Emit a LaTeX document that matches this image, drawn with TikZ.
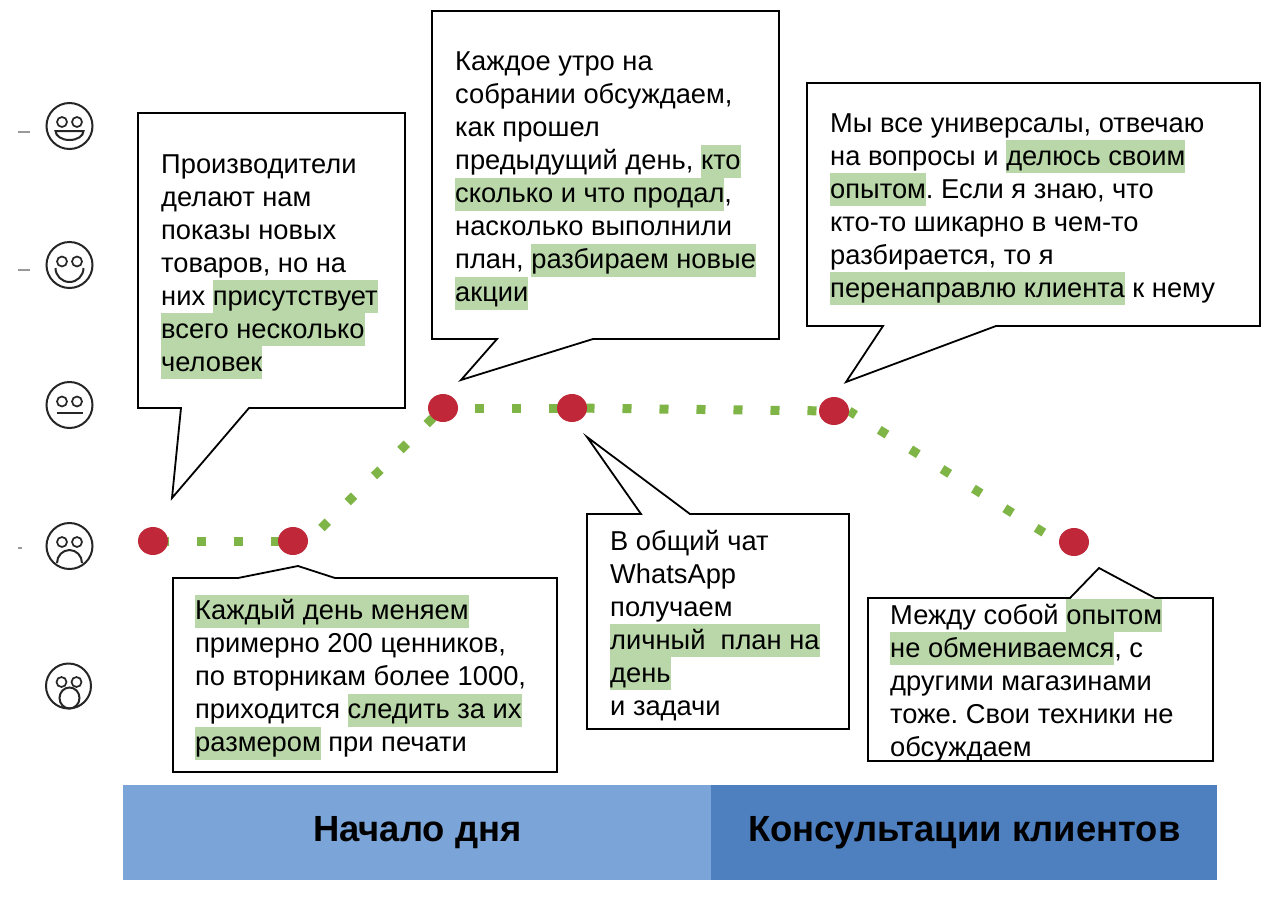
\documentclass[tikz,border=0pt]{standalone}
\usepackage{fontspec}
\setmainfont{Liberation Sans}
\usetikzlibrary{shapes.geometric,backgrounds}
\definecolor{hlgreen}{HTML}{B9D7A8}
\definecolor{barlight}{HTML}{7BA5D8}
\definecolor{bardark}{HTML}{4E80C0}
\definecolor{dotred}{HTML}{C0283A}
\definecolor{pathgreen}{HTML}{7FB547}
\newcommand\hl[1]{{\setlength\fboxsep{0pt}\colorbox{hlgreen}{\rule[-8pt]{0pt}{33pt}#1}}}
\newcommand\saysetup{\fontsize{27.3}{33}\selectfont\frenchspacing\lineskiplimit=-100pt\relax}
\tikzset{
 bubble/.style={draw=black,fill=white,line width=1.8pt,line join=miter},
 say/.style={anchor=north west,align=left,inner sep=0pt,font=\saysetup},
 stagedot/.style={ellipse,fill=dotred,minimum width=30pt,minimum height=28pt,inner sep=0pt},
 trail/.style={draw=pathgreen,line width=9pt,dash pattern=on 9pt off 28pt},
 bar/.style={anchor=north west,inner sep=0pt,minimum height=95pt,font=\fontsize{36.4}{40}\selectfont\bfseries},
 face/.style={draw=black!85,line width=2pt},
 eye/.style={draw=black!85,line width=1.7pt},
 tick/.style={draw=black!40,line width=1.5pt}
}
\begin{document}
\begin{tikzpicture}[x=1pt,y=-1pt]
\useasboundingbox (0,0) rectangle (1280,900);
% faces
\begin{scope}[shift={(69.5,126)}]
 \draw[face] (0,0) circle (23);
 \draw[eye] (-7.5,-4) circle (5) (7.5,-4) circle (5);
 \draw[face] (-14,5) -- (14,5) arc (0:180:14 and 9) -- cycle;
\end{scope}
\begin{scope}[shift={(69.5,265)}]
 \draw[face] (0,0) circle (23);
 \draw[eye] (-7.5,-3.5) circle (5) (7.5,-3.5) circle (5);
 \draw[face] (-14,3) arc (180:0:14 and 14);
\end{scope}
\begin{scope}[shift={(69.5,405)}]
 \draw[face] (0,0) circle (23);
 \draw[eye] (-7.5,-3.5) circle (5) (7.5,-3.5) circle (5);
 \draw[face] (-13,8) -- (13,8);
\end{scope}
\begin{scope}[shift={(69.5,546)}]
 \draw[face] (0,0) circle (23);
 \draw[eye] (-7.5,-4) circle (5) (7.5,-4) circle (5);
 \draw[face] (-12.5,17) arc (180:360:12.5 and 13);
\end{scope}
\begin{scope}[shift={(68.5,686)}]
 \draw[face] (0,0) circle (22.5);
 \draw[eye] (-7,-4) circle (5) (8,-4) circle (5);
 \draw[face] (1,12) ellipse (10 and 10.5);
\end{scope}
\draw[tick] (18,132) -- (30,132);
\draw[tick] (18,270) -- (30,270);
\draw[tick] (18,548) -- (22,548);
% stages
\node[stagedot] (d1) at (153,541) {};
\node[stagedot] (d2) at (293,541) {};
\node[stagedot] (d3) at (443,408) {};
\node[stagedot] (d4) at (572,408) {};
\node[stagedot] (d5) at (834,411) {};
\node[stagedot] (d6) at (1074,542) {};
\begin{pgfonlayer}{background}
\fill[white] (0,0) rectangle (1280,900);
\draw[trail,dash phase=30pt] (d1.center) -- (d2.center);
\draw[trail,dash phase=18.5pt] (d2.east) -- (d3.center);
\draw[trail,dash phase=5.5pt] (d3.center) -- (d4.center);
\draw[trail,dash phase=23.5pt] (d4.center) -- (d5.center);
\draw[trail,dash phase=1.5pt] (d5.east) -- (d6.west);
\end{pgfonlayer}
% bubbles
\draw[bubble] (138,113) -- (405,113) -- (405,408) -- (249,408) -- (172,498) -- (181,408) -- (138,408) -- cycle;
\draw[bubble] (432,11) -- (779,11) -- (779,339) -- (593,339) -- (461,380) -- (497,339) -- (432,339) -- cycle;
\draw[bubble] (807,83) -- (1260,83) -- (1260,326) -- (996,326) -- (846,382) -- (883,326) -- (807,326) -- cycle;
\draw[bubble] (173,578) -- (238,578) -- (298,566) -- (335,578) -- (557,578) -- (557,772) -- (173,772) -- cycle;
\draw[bubble] (587,514) -- (641,514) -- (587,437) -- (690,514) -- (849,514) -- (849,729) -- (587,729) -- cycle;
\draw[bubble] (868,598) -- (1070,598) -- (1099,568) -- (1155,598) -- (1213,598) -- (1213,761) -- (868,761) -- cycle;
% texts
\node[say] (t1) at (161,154.5) {Производители\\делают нам\\показы новых\\товаров, но на\\них \hl{присутствует}\\\hl{всего несколько}\\\hl{человек}};
\node[say] (t2) at (455,52) {Каждое утро на\\собрании обсуждаем,\\как прошел\\предыдущий день, \hl{кто}\\\hl{сколько и что продал},\\насколько выполнили\\план, \hl{разбираем новые}\\\hl{акции}};
\node[say] (t3) at (830,113.5) {Мы все универсалы, отвечаю\\на вопросы и \hl{делюсь своим}\\\hl{опытом}. Если я знаю, что\\кто-то шикарно в чем-то\\разбирается, то я\\\hl{перенаправлю клиента} к нему};
\node[say] (t4) at (195,594.5) {\hl{Каждый день меняем}\\примерно 200 ценников,\\по вторникам более 1000,\\приходится \hl{следить за их}\\\hl{размером} при печати};
\node[say] (t5) at (610,530) {В общий чат\\WhatsApp\\получаем\\\hl{личный\ \ план на}\\\hl{день}\\и задачи};
\node[say] (t6) at (890,599) {Между собой \hl{опытом}\\\hl{не обмениваемся}, с\\другими магазинами\\тоже. Свои техники не\\обсуждаем};
% bars
\node[bar,fill=barlight,minimum width=588pt] (b1) at (123,785) {\raisebox{-1pt}{Начало дня}};
\node[bar,fill=bardark,minimum width=506pt] (b2) at (711,785) {\raisebox{-1pt}{Консультации клиентов}};
\end{tikzpicture}
\end{document}
